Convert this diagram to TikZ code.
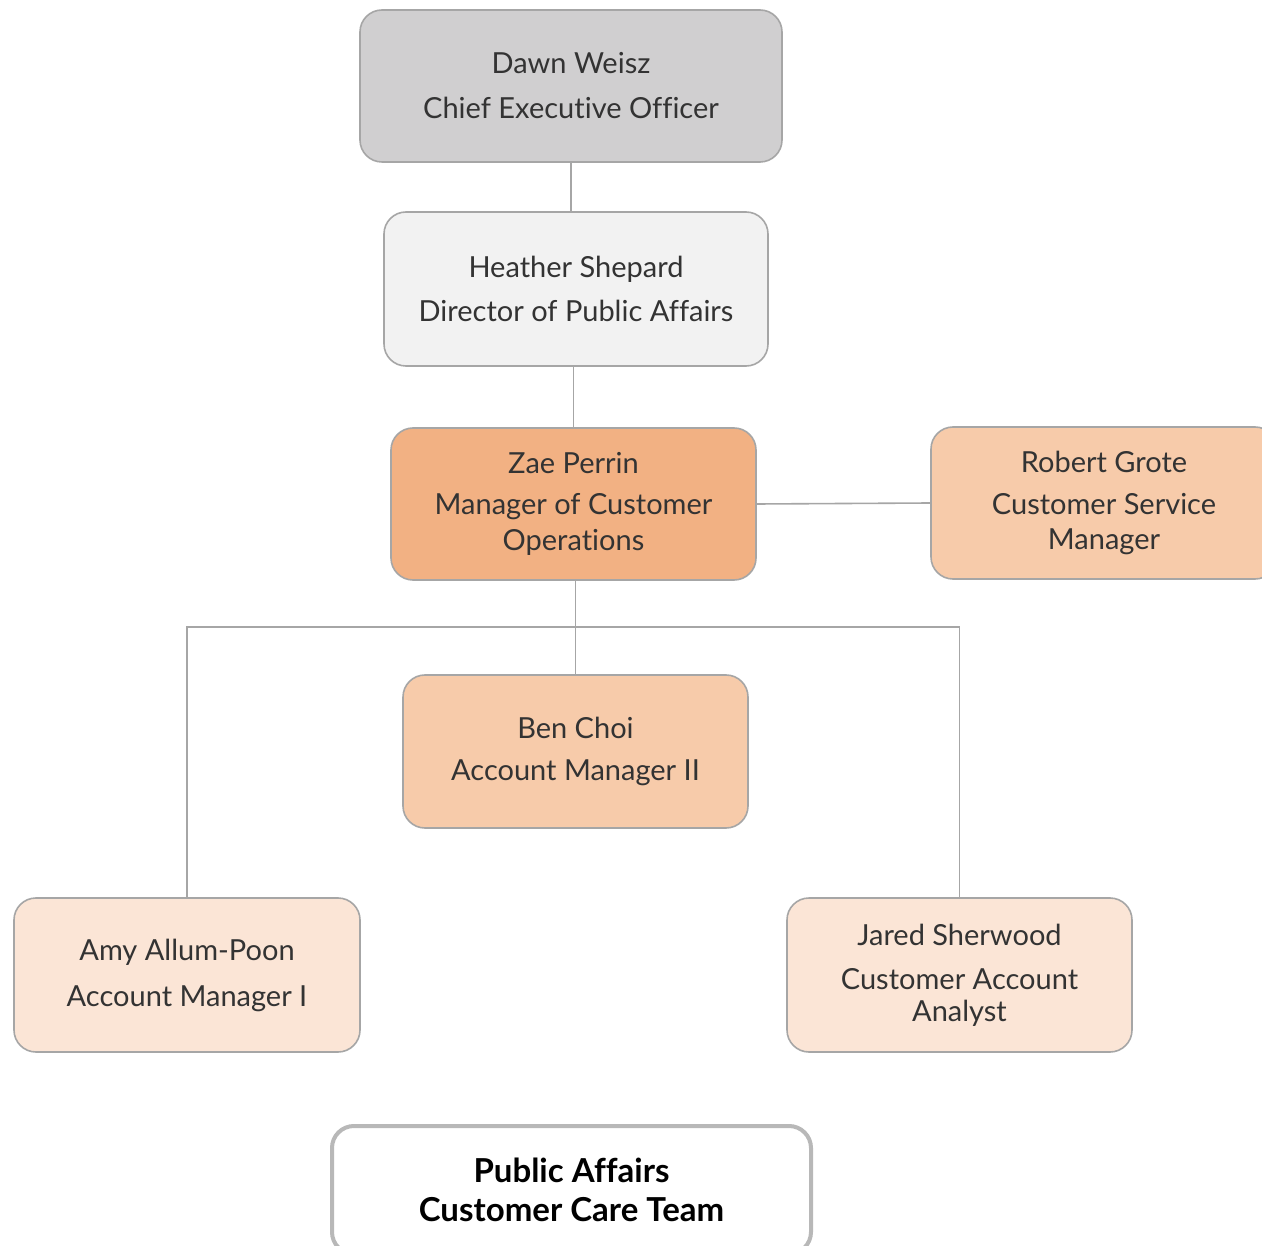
\documentclass[tikz,border=0pt]{standalone}
\usepackage{fontspec}
\setmainfont{Lato}[Ligatures=NoCommon]
\definecolor{ceofill}{HTML}{D0CFD0}
\definecolor{dirfill}{HTML}{F2F2F2}
\definecolor{mgrfill}{HTML}{F2B183}
\definecolor{leadfill}{HTML}{F7CBAA}
\definecolor{stafffill}{HTML}{FBE5D6}
\definecolor{edgegray}{HTML}{A6A6A6}
\definecolor{txt}{HTML}{333333}
\begin{document}
\begin{tikzpicture}[x=1pt,y=-1pt,
  card/.style={draw=edgegray, line width=1.6pt, rounded corners=22pt,
    minimum width=345pt, minimum height=153pt, inner sep=0pt,
    align=center, text=txt, font=\fontsize{29}{36}\selectfont},
  link/.style={draw=edgegray, line width=1.6pt},
  titlebox/.style={draw=edgegray!80, line width=4pt, rounded corners=22pt,
    minimum width=479pt, minimum height=128pt, inner sep=0pt, fill=white,
    align=center, text=black, font=\fontsize{33}{39}\selectfont\bfseries}]
  \useasboundingbox (0,0) rectangle (1262,1246);
  \fill[white] (0,0) rectangle (1262,1246);

  % people
  \node[card, fill=ceofill, minimum width=422pt, minimum height=152pt] (ceo) at (571,86)
    {Dawn Weisz\\[9pt]Chief Executive Officer};
  \node[card, fill=dirfill, minimum width=384pt, minimum height=154pt] (dir) at (576,289)
    {Heather Shepard\\[8pt]Director of Public Affairs};
  \node[card, fill=mgrfill, minimum width=365pt, minimum height=152pt] (mgr) at (573.5,504)
    {Zae Perrin\\[5pt]Manager of Customer\\Operations};
  \node[card, fill=leadfill, minimum width=346pt, minimum height=152pt] (csm) at (1104,503)
    {Robert Grote\\[6pt]Customer Service\\[-1pt]Manager};
  \node[card, fill=leadfill] (ben) at (575.5,751.5)
    {Ben Choi\\[6pt]Account Manager II};
  \node[card, fill=stafffill, minimum width=346pt, minimum height=154pt] (amy) at (187,975)
    {Amy Allum-Poon\\[10pt]Account Manager I};
  \node[card, fill=stafffill, minimum height=154pt] (jared) at (959.5,975)
    {Jared Sherwood\\[8pt]Customer Account\\[-4pt]Analyst};

  % reporting lines
  \coordinate (bus) at (575,627);
  \draw[link] (ceo.south) -- (ceo.south |- dir.north);
  \draw[link] (dir.south -| mgr.south) -- (mgr.north);
  \draw[link] (mgr.east) -- (csm.west);
  \draw[link] (ben.north |- mgr.south) -- (ben.north);
  \draw[link] (amy.north) |- (bus) -| (jared.north);

  % team caption
  \node[titlebox] (team) at (571.5,1190)
    {Public Affairs\\Customer Care Team};
\end{tikzpicture}
\end{document}
